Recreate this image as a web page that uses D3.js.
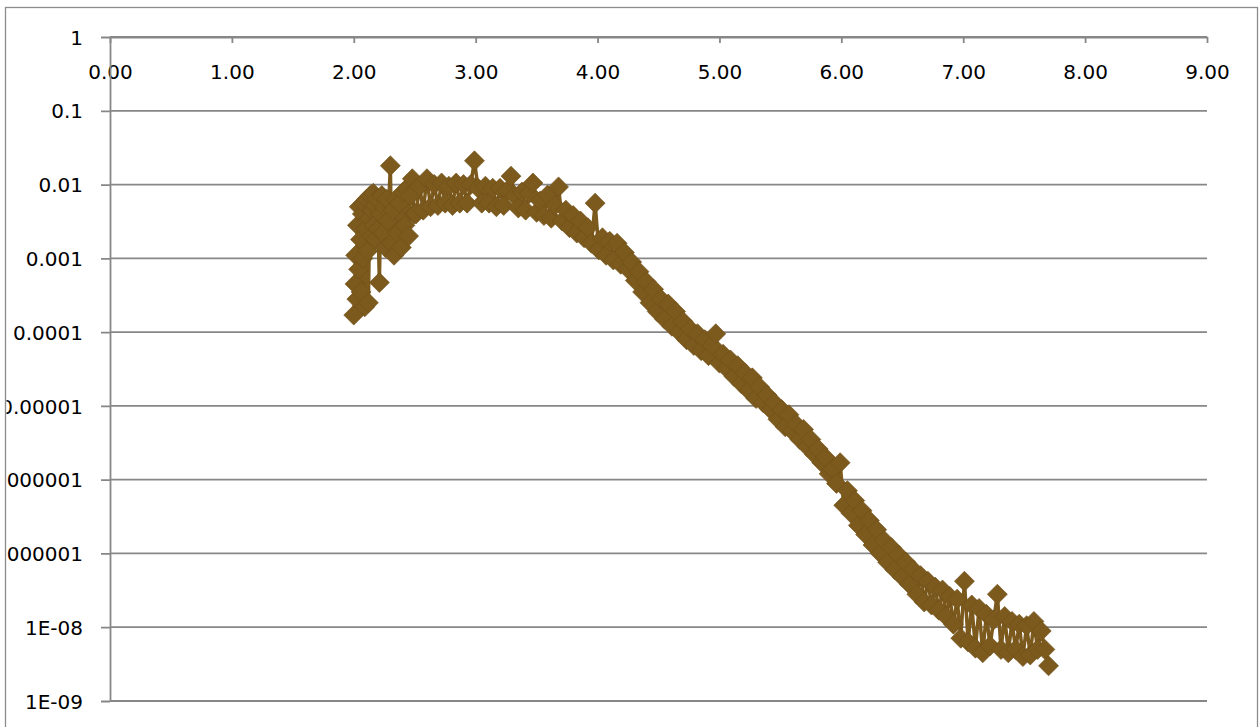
<!DOCTYPE html>
<html>
<head>
<meta charset="utf-8">
<script src="https://cdn.jsdelivr.net/npm/d3@7"></script>
<style>
    body { margin: 0; background: #ffffff; }
    svg { display: block; }
</style>
</head>
<body>
<svg id="drawing_region"></svg>
<script>
// x positions of the measured points (denser near the noisy start)
const xValues = [
    2.000, 2.010, 2.015, 2.025, 2.030, 2.040, 2.045, 2.055, 2.060, 2.070,
    2.075, 2.085, 2.090, 2.100, 2.105, 2.115, 2.120, 2.130, 2.135, 2.145,
    2.150, 2.160, 2.165, 2.175, 2.180, 2.190, 2.200, 2.210, 2.220, 2.230,
    2.240, 2.250, 2.260, 2.270, 2.280, 2.300, 2.310, 2.320, 2.330, 2.345,
    2.360, 2.375, 2.390, 2.405, 2.420, 2.435, 2.450, 2.465, 2.480, 2.495,
    2.51, 2.54, 2.57,
    2.60, 2.63, 2.66, 2.69, 2.72, 2.75, 2.78, 2.81, 2.84, 2.87,
    2.90, 2.93, 2.96, 2.99, 3.02, 3.05, 3.08, 3.11, 3.14, 3.17,
    3.20, 3.23, 3.26, 3.29, 3.32, 3.35, 3.38, 3.41, 3.44, 3.47,
    3.50, 3.53, 3.56, 3.59, 3.62, 3.65, 3.68, 3.71, 3.74, 3.77,
    3.80, 3.83, 3.86, 3.89, 3.92, 3.95, 3.98, 4.01, 4.04, 4.07,
    4.10, 4.13, 4.16, 4.19, 4.22, 4.25, 4.28, 4.31, 4.34, 4.37,
    4.40, 4.43, 4.46, 4.49, 4.52, 4.55, 4.58, 4.61, 4.64, 4.67,
    4.70, 4.73, 4.76, 4.79, 4.82, 4.85, 4.88, 4.91, 4.94, 4.97,
    5.00, 5.03, 5.06, 5.09, 5.12, 5.15, 5.18, 5.21, 5.24, 5.27,
    5.30, 5.33, 5.36, 5.39, 5.42, 5.45, 5.48, 5.51, 5.54, 5.57,
    5.60, 5.63, 5.66, 5.69, 5.72, 5.75, 5.78, 5.81, 5.84, 5.87,
    5.90, 5.93, 5.96, 5.99, 6.02, 6.05, 6.08, 6.11, 6.14, 6.17,
    6.20, 6.23, 6.26, 6.29, 6.32, 6.35, 6.38, 6.41, 6.44, 6.47,
    6.50, 6.53, 6.56, 6.59, 6.62, 6.65, 6.68, 6.71, 6.74, 6.77,
    6.80, 6.83, 6.86, 6.89, 6.92, 6.95, 6.98, 7.01, 7.04, 7.07,
    7.10, 7.13, 7.16, 7.19, 7.22, 7.25, 7.28, 7.31, 7.34, 7.37,
    7.40, 7.43, 7.46, 7.49, 7.52, 7.55, 7.58, 7.61, 7.64, 7.67,
    7.70
];

// y values
const yValues = [
    1.7e-4, 4.5e-4, 1.1e-3, 2.8e-4, 2.8e-3, 7.1e-4, 5.0e-3, 1.8e-3, 3.5e-4, 4.0e-3,
    1.0e-3, 5.6e-3, 2.2e-4, 2.5e-3, 6.3e-3, 1.26e-3, 2.5e-4, 3.5e-3, 7.1e-3, 2.0e-3,
    4.5e-3, 7.6e-3, 2.8e-3, 5.2e-3, 1.8e-3, 6.3e-3, 2.5e-3, 4.7e-4, 4.0e-3, 7.1e-3,
    2.2e-3, 5.0e-3, 1.4e-3, 6.3e-3, 3.2e-3, 1.8e-2, 1.6e-3, 4.5e-3, 1.1e-3, 6.3e-3,
    2.2e-3, 5.6e-3, 1.4e-3, 7.9e-3, 2.8e-3, 8.9e-3, 2.0e-3, 7.1e-3, 1.2e-2, 4.0e-3,
    4.0e-3, 9.5e-3, 4.5e-3,
    1.2e-2, 5.0e-3, 1.0e-2, 5.2e-3, 1.05e-2, 5.6e-3, 9.5e-3, 5.2e-3, 1.05e-2, 5.6e-3,
    1.0e-2, 5.6e-3, 1.0e-2, 2.1e-2, 8.9e-3, 5.6e-3, 9.5e-3, 5.6e-3, 8.9e-3, 5.0e-3,
    8.9e-3, 5.2e-3, 8.3e-3, 1.3e-2, 7.1e-3, 4.8e-3, 7.9e-3, 4.5e-3, 7.6e-3, 1.05e-2,
    4.2e-3, 6.0e-3, 3.8e-3, 7.2e-3, 3.5e-3, 5.2e-3, 9.3e-3, 3.2e-3, 4.5e-3, 2.6e-3,
    3.8e-3, 2.2e-3, 3.2e-3, 1.9e-3, 2.6e-3, 1.6e-3, 5.6e-3, 1.3e-3, 1.9e-3, 1.1e-3,
    1.7e-3, 9.5e-4, 1.6e-3, 8.3e-4, 1.2e-3, 7.1e-4, 8.9e-4, 5.0e-4, 6.6e-4, 3.5e-4,
    4.8e-4, 2.5e-4, 3.8e-4, 1.9e-4, 2.8e-4, 1.5e-4, 2.4e-4, 1.2e-4, 1.9e-4, 1.0e-4,
    1.4e-4, 7.9e-5, 1.1e-4, 6.6e-5, 9.5e-5, 5.6e-5, 7.9e-5, 4.8e-5, 6.6e-5, 9.5e-5,
    3.8e-5, 5.0e-5, 3.2e-5, 4.2e-5, 2.5e-5, 3.5e-5, 2.0e-5, 2.8e-5, 1.6e-5, 2.4e-5,
    1.26e-5, 1.8e-5, 1.1e-5, 1.4e-5, 8.9e-6, 1.1e-5, 6.6e-6, 8.9e-6, 5.2e-6, 7.6e-6,
    4.5e-6, 5.6e-6, 3.5e-6, 4.8e-6, 2.8e-6, 3.5e-6, 2.2e-6, 2.6e-6, 1.7e-6, 2.0e-6,
    1.2e-6, 1.4e-6, 8.9e-7, 1.7e-6, 4.5e-7, 7.1e-7, 3.5e-7, 5.2e-7, 2.4e-7, 3.8e-7,
    1.8e-7, 2.8e-7, 1.3e-7, 2.1e-7, 1.0e-7, 1.5e-7, 7.6e-8, 1.2e-7, 6.0e-8, 9.5e-8,
    4.8e-8, 7.6e-8, 3.8e-8, 6.0e-8, 2.8e-8, 5.0e-8, 2.2e-8, 4.2e-8, 2.0e-8, 3.5e-8,
    1.7e-8, 3.2e-8, 1.4e-8, 2.6e-8, 1.1e-8, 2.4e-8, 7.1e-9, 4.2e-8, 6.3e-9, 2.0e-8,
    5.2e-9, 1.8e-8, 4.5e-9, 1.5e-8, 5.6e-9, 1.26e-8, 2.8e-8, 5.0e-9, 1.4e-8, 4.5e-9,
    1.2e-8, 5.0e-9, 1.1e-8, 4.0e-9, 1.05e-8, 4.2e-9, 1.2e-8, 5.0e-9, 8.9e-9, 5.0e-9,
    3.0e-9
];

const xTicks = [0, 1, 2, 3, 4, 5, 6, 7, 8, 9];
const yTicks = [1, 1e-1, 1e-2, 1e-3, 1e-4, 1e-5, 1e-6, 1e-7, 1e-8, 1e-9];
const yTickLabels = ["1", "0.1", "0.01", "0.001", "0.0001", "0.00001", "0.000001", "0.0000001", "1E-08", "1E-09"];

var config = {
    parent: '#drawing_region',
    width: 1260,
    height: 727,
    plot: { left: 110, right: 1207, top: 37, bottom: 701 }
};

class LogScatter {

    constructor(config, xs, ys) {
        this.config = config;
        this.data = xs.map((x, i) => ({ x: x, y: ys[i] }));
        this.init();
    }

    init() {
        let self = this;
        let p = self.config.plot;

        self.svg = d3.select(self.config.parent)
            .attr('width', self.config.width)
            .attr('height', self.config.height);

        // the chart area cuts off the long y labels on the left, as in the original
        self.svg.append('defs').append('clipPath')
            .attr('id', 'area_clip')
            .append('rect')
            .attr('x', 6.5).attr('y', 8)
            .attr('width', 1250).attr('height', 730);

        // chart area border (bottom edge falls off the page)
        self.svg.append('rect')
            .attr('x', 5.5).attr('y', 7.5)
            .attr('width', 1252).attr('height', 760)
            .attr('fill', 'none')
            .attr('stroke', '#8c8c8c')
            .attr('stroke-width', 1.3);

        self.chart = self.svg.append('g')
            .attr('clip-path', 'url(#area_clip)');

        self.xscale = d3.scaleLinear()
            .domain([0, 9])
            .range([p.left, p.right]);

        self.yscale = d3.scaleLog()
            .domain([1e-9, 1])
            .range([p.bottom, p.top]);

        self.xaxis = d3.axisBottom(self.xscale)
            .tickValues(xTicks)
            .tickSize(6)
            .tickSizeOuter(0)
            .tickPadding(22)
            .tickFormat(d3.format('.2f'));

        self.yaxis = d3.axisLeft(self.yscale)
            .tickValues(yTicks)
            .tickSize(9)
            .tickSizeOuter(0)
            .tickPadding(18)
            .tickFormat(d => yTickLabels[yTicks.indexOf(d)]);

        self.grid_group = self.chart.append('g');
        self.xaxis_group = self.chart.append('g')
            .attr('transform', `translate(0, ${self.yscale(1)})`);
        self.yaxis_group = self.chart.append('g')
            .attr('transform', `translate(${self.xscale(0)}, 0)`);
        self.series_group = self.chart.append('g');
    }

    render() {
        let self = this;
        let color = '#7c5a1e';
        let axis_color = '#878787';

        self.grid_group.selectAll('line').data(yTicks).enter()
            .append('line')
            .attr('x1', self.xscale(0))
            .attr('x2', self.xscale(9))
            .attr('y1', d => self.yscale(d))
            .attr('y2', d => self.yscale(d))
            .attr('stroke', axis_color)
            .attr('stroke-width', 1.8);

        self.xaxis_group.call(self.xaxis);
        self.yaxis_group.call(self.yaxis);

        [self.xaxis_group, self.yaxis_group].forEach(g => {
            g.select('.domain').attr('stroke', axis_color).attr('stroke-width', 1.8);
            g.selectAll('.tick line').attr('stroke', axis_color).attr('stroke-width', 1.8);
            g.selectAll('.tick text')
                .attr('fill', '#000')
                .style('font-family', '"DejaVu Sans", sans-serif')
                .style('font-size', '20px');
        });
        self.yaxis_group.selectAll('.tick text').attr('dy', '0.36em');

        let line = d3.line()
            .x(d => self.xscale(d.x))
            .y(d => self.yscale(d.y));

        self.series_group.append('path')
            .datum(self.data)
            .attr('d', line)
            .attr('fill', 'none')
            .attr('stroke', color)
            .attr('stroke-width', 3.5)
            .attr('stroke-linejoin', 'round');

        let diamond = d3.symbol().type(d3.symbolSquare).size(200);

        self.series_group.selectAll('.marker').data(self.data).enter()
            .append('path')
            .attr('class', 'marker')
            .attr('d', diamond)
            .attr('transform', d => `translate(${self.xscale(d.x)}, ${self.yscale(d.y)}) rotate(45)`)
            .attr('fill', color)
            .attr('stroke', '#6f4f18')
            .attr('stroke-width', 0.6);
    }
}

const chart = new LogScatter(config, xValues, yValues);
chart.render();
</script>
</body>
</html>
